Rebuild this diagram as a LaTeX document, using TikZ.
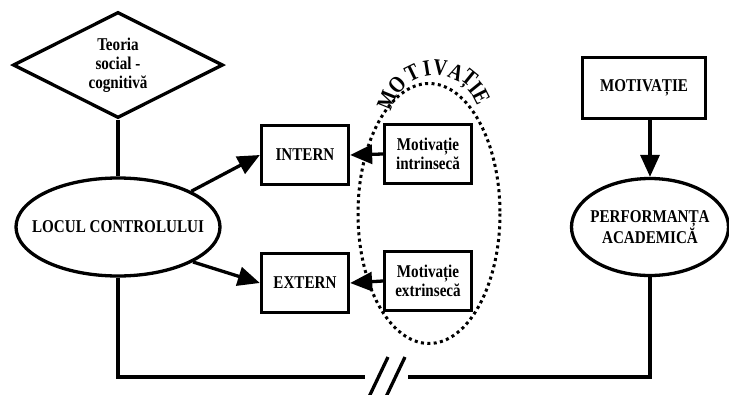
\documentclass[tikz,border=0pt]{standalone}
\usepackage{fontspec}
\setmainfont{Liberation Serif}[FakeStretch=0.84]
\usetikzlibrary{arrows.meta}
\usetikzlibrary{shapes.geometric}

\begin{document}
\begin{tikzpicture}[x=1pt, y=-1pt, line width=3.3pt,
    txt/.style={font=\fontsize{18}{19}\selectfont\bfseries, align=center},
    box/.style={txt, draw, fill=white, rectangle, inner sep=0pt, minimum width=87pt, minimum height=59pt},
    oval/.style={txt, draw, fill=white, ellipse, inner sep=-30pt},
    motivring/.style={dash pattern=on 3pt off 3.4pt, line width=3pt},
    arcletter/.style={font=\fontsize{23}{23}\selectfont\bfseries, inner sep=0pt, anchor=center},
    arr/.style={-{Triangle[length=22pt, width=19pt]}}]
    \useasboundingbox (0,0) rectangle (729,394);

    \draw[motivring] (429,213.5) ellipse [x radius=71, y radius=130];
    \foreach \ch/\a [count=\i] in {M/158, O/137, T/116, I/99, V/84, A/66, Ț/51, I/39, E/27}
        \path (435,120) ++(-\a:52) node[arcletter, rotate=\a-90] (arc\i) {\ch};

    \node[txt, draw, diamond, aspect=2, inner sep=0pt, minimum width=210pt, minimum height=106pt] (teoria) at (118,65) {Teoria\\social -\\cognitivă};
    \node[oval, minimum width=204pt, minimum height=98pt] (locul) at (118,227) {LOCUL CONTROLULUI};
    \node[box] (intern) at (305,155) {INTERN};
    \node[box] (extern) at (305,283) {EXTERN};
    \node[box] (intr) at (428,154) {Motivație\\intrinsecă};
    \node[box] (extr) at (428,281) {Motivație\\extrinsecă};
    \node[box, minimum width=123pt, minimum height=61pt] (motiv) at (644,88) {MOTIVAȚIE};
    \node[oval, minimum width=157pt, minimum height=97pt] (perf) at (650,227) {PERFORMANȚA\\ACADEMICĂ};

    \draw (teoria.south) -- (locul.north);
    \draw[arr] (locul.26) -- (intern.west);
    \draw[arr] (locul.-25) -- (extern.west);
    \draw[arr] (intr.west) -- (intern.east);
    \draw[arr] (extr.west) -- (extern.east);
    \draw[arr] (motiv.south -| perf.north) -- (perf.north);

    \coordinate (brkL) at (365,377);
    \coordinate (brkR) at (408,377);
    \draw (locul.south) -- (locul.south |- brkL) -- (brkL);
    \draw (brkR) -- (brkR -| perf.south) -- (perf.south);
    \coordinate (s1a) at (368,399);
    \coordinate (s1b) at (388,357);
    \coordinate (s2a) at (385,399);
    \coordinate (s2b) at (405,357);
    \draw (s1a) -- (s1b);
    \draw (s2a) -- (s2b);
\end{tikzpicture}
\end{document}
